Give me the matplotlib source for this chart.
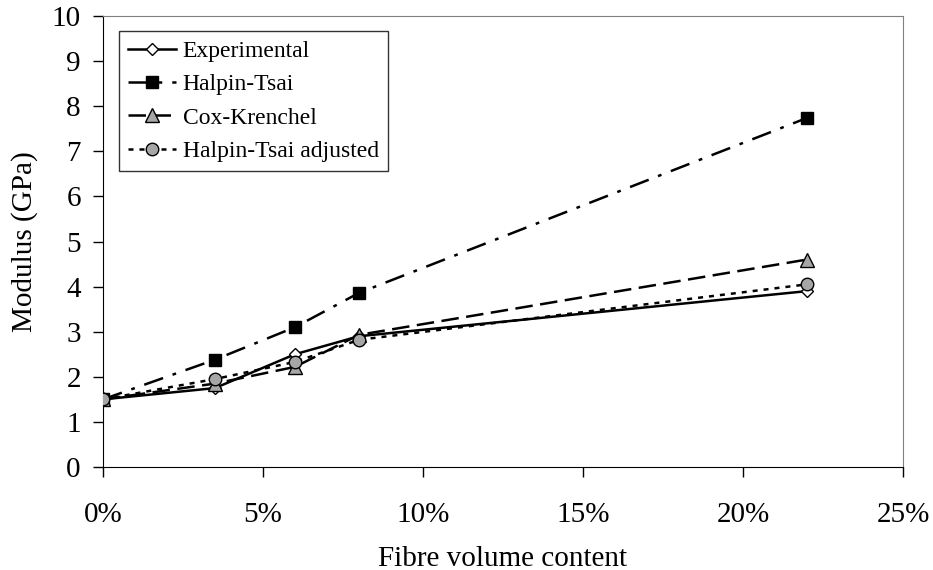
import numpy as np
import matplotlib.pyplot as plt
from matplotlib.ticker import PercentFormatter, MultipleLocator

# fibre volume content (fraction) and modulus (GPa)
fibre_content = [0.0, 0.035, 0.06, 0.08, 0.22]
experimental = [1.5, 1.75, 2.5, 2.9, 3.9]
halpin_tsai = [1.5, 2.38, 3.1, 3.86, 7.74]
cox_krenchel = [1.5, 1.85, 2.22, 2.93, 4.6]
halpin_tsai_adj = [1.5, 1.95, 2.33, 2.82, 4.05]

plt.rcParams['font.family'] = ['Liberation Serif', 'DejaVu Serif']

fig = plt.figure(figsize=(9.33, 5.70), dpi=100)
ax = fig.add_axes([0.1104, 0.1807, 0.8574, 0.7912])

ax.plot(fibre_content, experimental, color='black', lw=1.8, ls='-',
        marker='D', ms=6.5, mfc='white', mec='black', mew=1, label='Experimental', zorder=3)
ax.plot(fibre_content, halpin_tsai, color='black', lw=1.8, ls=(0, (8, 4, 1.5, 4)),
        marker='s', ms=9, mfc='black', mec='black', label='Halpin-Tsai', zorder=3)
ax.plot(fibre_content, cox_krenchel, color='black', lw=1.8, ls=(0, (7, 3)),
        marker='^', ms=9.5, mfc='#a6a6a6', mec='black', mew=1, label='Cox-Krenchel', zorder=3)
ax.plot(fibre_content, halpin_tsai_adj, color='black', lw=1.8, ls=(0, (2, 2.4)),
        marker='o', ms=9, mfc='#a6a6a6', mec='black', mew=1, label='Halpin-Tsai adjusted', zorder=4)

ax.set_xlim(0, 0.25)
ax.set_ylim(0, 10)
ax.xaxis.set_major_locator(MultipleLocator(0.05))
ax.yaxis.set_major_locator(MultipleLocator(1))
ax.xaxis.set_major_formatter(PercentFormatter(1.0, decimals=0))

ax.tick_params(direction='out', length=7, width=1, labelsize=21)
ax.tick_params(axis='x', pad=18)
ax.tick_params(axis='y', pad=9)
ax.set_xlabel('Fibre volume content', fontsize=21, labelpad=13)
ax.set_ylabel('Modulus (GPa)', fontsize=21, labelpad=10)

for side in ['top', 'right']:
    ax.spines[side].set_color('#808080')
for side in ['left', 'bottom']:
    ax.spines[side].set_color('black')

leg = ax.legend(loc='upper left', bbox_to_anchor=(0.02, 0.967), fontsize=17,
                frameon=True, fancybox=False, edgecolor='black', handlelength=2,
                handletextpad=0.3, borderpad=0.4, labelspacing=0.5, borderaxespad=0)
leg.get_frame().set_linewidth(1)

plt.savefig('out.png', dpi=100)
